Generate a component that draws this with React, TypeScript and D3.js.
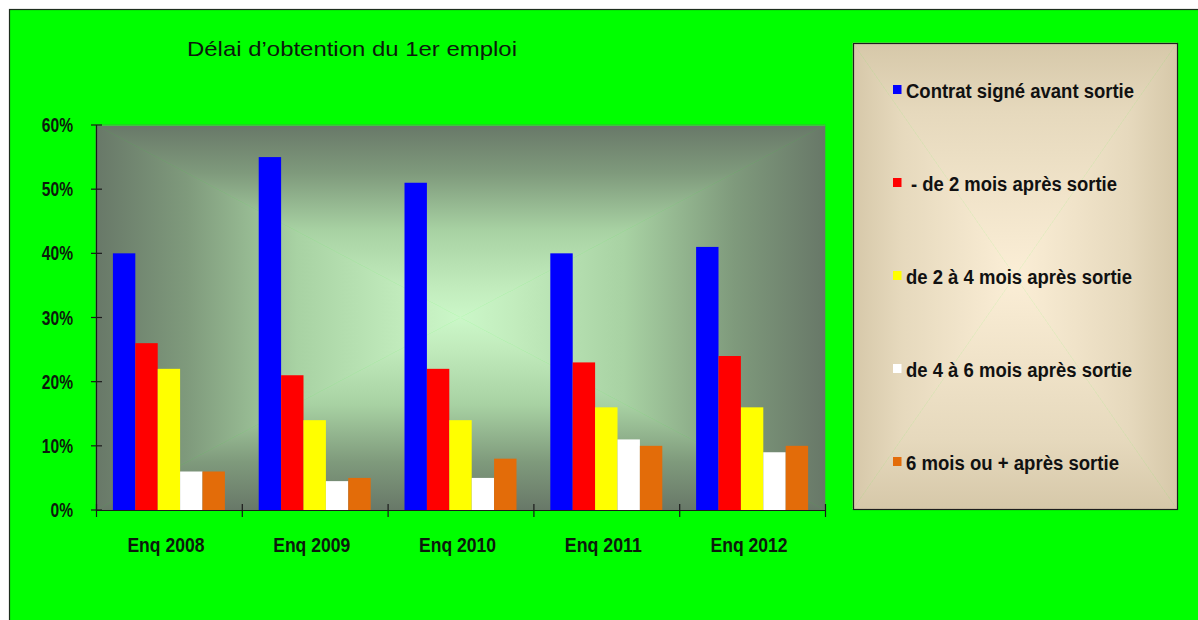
import React from "react";
import * as d3 from "d3";

const categories = ["Enq 2008", "Enq 2009", "Enq 2010", "Enq 2011", "Enq 2012"];
const seriesNames = [
  "Contrat signé avant sortie",
  " - de 2 mois après sortie",
  "de 2 à 4 mois après sortie",
  "de 4 à 6 mois après sortie",
  "6 mois ou + après sortie",
];
const contratAvant = [40, 55, 51, 40, 41];
const moinsDe2 = [26, 21, 22, 23, 24];
const de2a4 = [22, 14, 14, 16, 16];
const de4a6 = [6, 4.5, 5, 11, 9];
const plus6 = [6, 5, 8, 10, 10];
const seriesColors = ["#0000ff", "#ff0000", "#ffff00", "#ffffff", "#e36c09"];
const yTicks = [0, 10, 20, 30, 40, 50, 60];
const legendWidths = [228, 206, 226, 226, 213];

const W = 1198;
const H = 620;
const plot = { left: 96, right: 825, top: 125, bottom: 510 };
const legendBox = { x: 853, y: 43, w: 324, h: 466 };

const FONT = "'Liberation Sans', Arial, sans-serif";

function RectGradient({ id, x0, y0, x1, y1, stops }: any) {
  const cx = (x0 + x1) / 2;
  const cy = (y0 + y1) / 2;
  const sides = [
    { k: "t", from: [cx, y0], pts: [[x0, y0], [x1, y0], [cx, cy]] },
    { k: "b", from: [cx, y1], pts: [[x0, y1], [x1, y1], [cx, cy]] },
    { k: "l", from: [x0, cy], pts: [[x0, y0], [x0, y1], [cx, cy]] },
    { k: "r", from: [x1, cy], pts: [[x1, y0], [x1, y1], [cx, cy]] },
  ];
  return (
    <g>
      <defs>
        {sides.map((s) => (
          <linearGradient
            key={s.k}
            id={`${id}-${s.k}`}
            gradientUnits="userSpaceOnUse"
            x1={s.from[0]}
            y1={s.from[1]}
            x2={cx}
            y2={cy}
          >
            {stops.map((st: any, i: number) => (
              <stop key={i} offset={st[0]} stopColor={st[1]} />
            ))}
          </linearGradient>
        ))}
      </defs>
      {sides.map((s) => (
        <polygon
          key={s.k}
          points={s.pts.map((p) => p.join(",")).join(" ")}
          fill={`url(#${id}-${s.k})`}
          stroke={`url(#${id}-${s.k})`}
          strokeWidth={0.6}
        />
      ))}
    </g>
  );
}

export default function App() {
  const series = [contratAvant, moinsDe2, de2a4, de4a6, plus6];
  const x0 = d3.scaleBand<string>().domain(categories).range([plot.left, plot.right]);
  const x1 = d3
    .scaleBand<number>()
    .domain(d3.range(series.length))
    .range([0, x0.bandwidth()])
    .paddingInner(0)
    .paddingOuter(0.755);
  const y = d3.scaleLinear().domain([0, 60]).range([plot.bottom, plot.top]);

  const tickTextLen = (v: number) => (String(v).length * 0.556 + 0.889) * 0.82 * 19;

  return (
    <svg
      width={W}
      height={H}
      style={{ position: "absolute", left: 0, top: 0, display: "block" }}
      fontFamily={FONT}
    >
      <rect x={0} y={0} width={W} height={H} fill="#ffffff" />
      <rect x={9.5} y={9.5} width={W + 10} height={H + 10} fill="#00ff00" stroke="#1e2e1e" strokeWidth={1.2} />

      {/* title */}
      <text x={187} y={56} fontSize={21} fill="#0c1a0c" textLength={330} lengthAdjust="spacingAndGlyphs">
        Délai d’obtention du 1er emploi
      </text>

      {/* plot background */}
      <RectGradient
        id="plotbg"
        x0={plot.left}
        y0={plot.top}
        x1={plot.right}
        y1={plot.bottom}
        stops={[
          [0, "#687868"],
          [0.25, "#7f9a7c"],
          [0.55, "#a8d2a3"],
          [0.85, "#c2ecbd"],
          [1, "#cbf7c8"],
        ]}
      />
      <line x1={plot.left} x2={plot.right} y1={plot.top + 0.5} y2={plot.top + 0.5} stroke="#3cc83c" strokeWidth={1.2} />

      {/* bars */}
      {categories.map((c, ci) => (
        <g key={c}>
          {series.map((vals, si) => (
            <rect
              key={si}
              x={(x0(c) as number) + (x1(si) as number)}
              y={y(vals[ci])}
              width={x1.bandwidth()}
              height={y(0) - y(vals[ci])}
              fill={seriesColors[si]}
            />
          ))}
        </g>
      ))}

      {/* y axis */}
      <line x1={plot.left + 0.5} x2={plot.left + 0.5} y1={plot.top} y2={plot.bottom + 1} stroke="#1a1a1a" strokeWidth={1.2} />
      {yTicks.map((t) => (
        <g key={t}>
          <line x1={plot.left - 5} x2={plot.left + 6} y1={y(t)} y2={y(t)} stroke="#1a1a1a" strokeWidth={1.2} />
          <text
            x={73}
            y={y(t) + 7}
            fontSize={19.5}
            fontWeight="bold"
            fill="#0c1a0c"
            textAnchor="end"
            textLength={tickTextLen(t)}
            lengthAdjust="spacingAndGlyphs"
          >
            {`${t}%`}
          </text>
        </g>
      ))}

      {/* x axis */}
      <line x1={plot.left} x2={plot.right} y1={plot.bottom + 0.5} y2={plot.bottom + 0.5} stroke="#1a1a1a" strokeWidth={1.2} />
      {[...categories.map((c) => x0(c) as number), plot.right].map((xx, i) => (
        <line key={i} x1={xx + 0.5} x2={xx + 0.5} y1={plot.bottom - 6} y2={plot.bottom + 7} stroke="#1a1a1a" strokeWidth={1.2} />
      ))}
      {categories.map((c) => (
        <text
          key={c}
          x={(x0(c) as number) + x0.bandwidth() / 2 - 3}
          y={551.5}
          fontSize={19.5}
          fontWeight="bold"
          fill="#0c1a0c"
          textAnchor="middle"
          textLength={77}
          lengthAdjust="spacingAndGlyphs"
        >
          {c}
        </text>
      ))}

      {/* legend */}
      <RectGradient
        id="legbg"
        x0={legendBox.x}
        y0={legendBox.y}
        x1={legendBox.x + legendBox.w}
        y1={legendBox.y + legendBox.h}
        stops={[
          [0, "#d6c8a9"],
          [0.3, "#e6d9bd"],
          [1, "#fbeed6"],
        ]}
      />
      <rect
        x={legendBox.x + 0.5}
        y={legendBox.y + 0.5}
        width={legendBox.w}
        height={legendBox.h}
        fill="none"
        stroke="#1e1e1e"
        strokeWidth={1.2}
      />
      {seriesNames.map((name, i) => {
        const base = 98 + i * 93;
        return (
          <g key={name}>
            <rect x={893} y={base - 13} width={8.5} height={9} fill={seriesColors[i]} />
            <text
              x={name.startsWith(" ") ? 911 : 906}
              y={base}
              fontSize={20}
              fontWeight="bold"
              fill="#111"
              textLength={legendWidths[i]}
              lengthAdjust="spacingAndGlyphs"
            >
              {name.trim()}
            </text>
          </g>
        );
      })}
    </svg>
  );
}
